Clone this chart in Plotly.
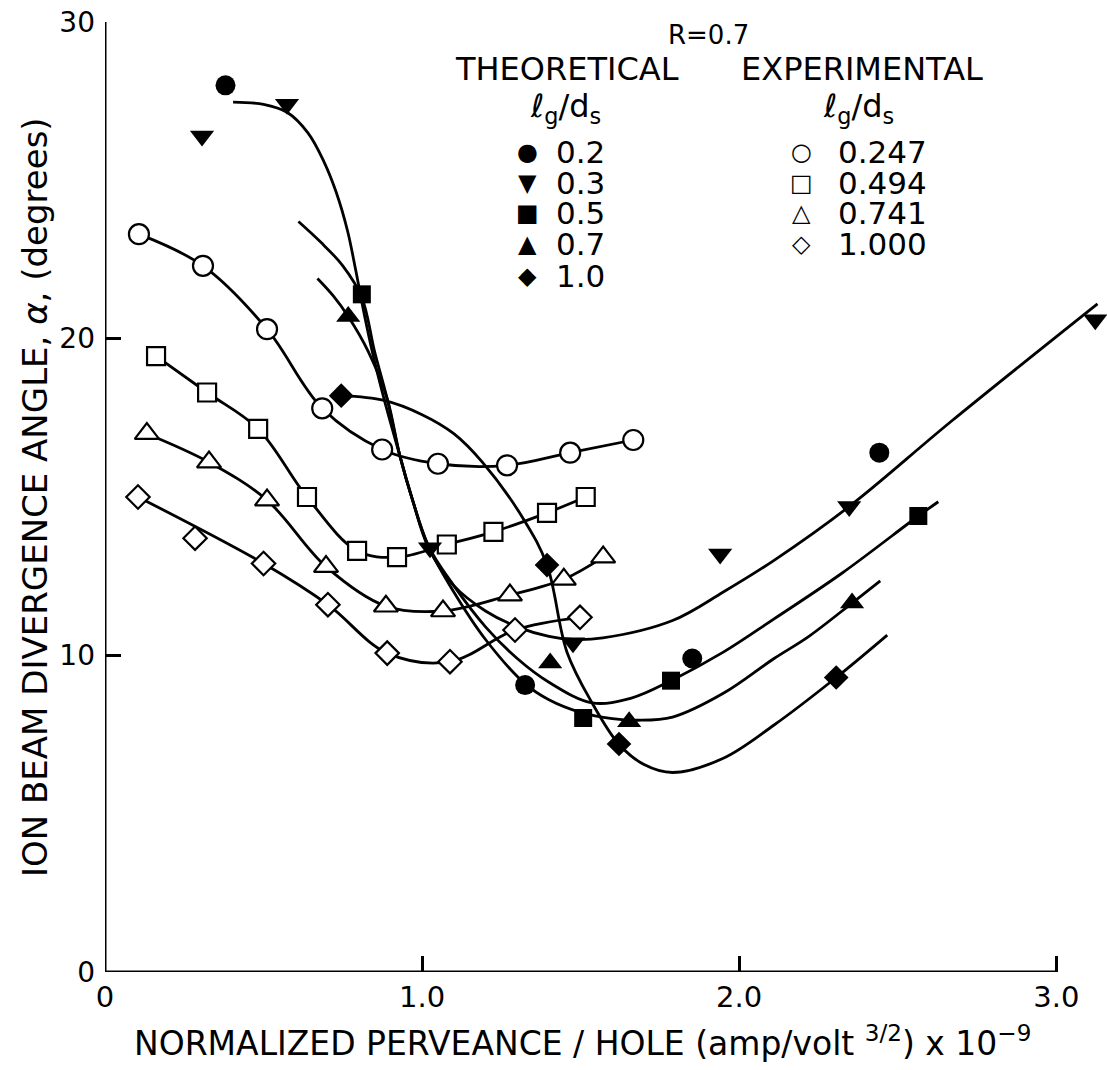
import plotly.graph_objects as go

# ---------------- figure geometry ----------------
W, H = 1107, 1070
ML, MR, MT, MB = 105, 0, 22, 98
X_MAX = 3.16
FONT = "DejaVu Sans"

# ---------------- experimental data (open symbols), lg/ds ----------------
exp_0247_x = [0.107, 0.309, 0.511, 0.685, 0.874, 1.050, 1.268, 1.467, 1.666]
exp_0247_y = [23.3, 22.3, 20.3, 17.8, 16.5, 16.05, 16.0, 16.4, 16.8]

exp_0494_x = [0.161, 0.322, 0.483, 0.637, 0.795, 0.921, 1.078, 1.225, 1.394, 1.516]
exp_0494_y = [19.45, 18.3, 17.15, 15.0, 13.3, 13.1, 13.5, 13.9, 14.5, 15.0]

exp_0741_x = [0.132, 0.328, 0.511, 0.697, 0.886, 1.066, 1.277, 1.447, 1.571]
exp_0741_y = [17.0, 16.1, 14.9, 12.8, 11.55, 11.4, 11.9, 12.4, 13.1]

exp_1000_x = [0.104, 0.284, 0.500, 0.703, 0.890, 1.088, 1.293, 1.498]
exp_1000_y = [15.0, 13.7, 12.9, 11.6, 10.07, 9.8, 10.8, 11.2]
# the second point lies off the faired curve
exp_1000_on_curve = [True, False, True, True, True, True, True, True]

# ---------------- theoretical points (filled symbols), lg/ds ----------------
th_02_x = [0.380, 1.325, 1.852, 2.442]
th_02_y = [28.0, 9.06, 9.9, 16.4]

th_03_x = [0.306, 0.574, 1.025, 1.476, 1.940, 2.347, 3.123]
th_03_y = [26.4, 27.4, 13.4, 10.4, 13.2, 14.7, 20.6]

th_05_x = [0.810, 1.508, 1.785, 2.565]
th_05_y = [21.4, 8.02, 9.2, 14.4]

th_07_x = [0.767, 1.404, 1.653, 2.356]
th_07_y = [20.7, 9.76, 7.9, 11.65]

th_10_x = [0.745, 1.394, 1.621, 2.306]
th_10_y = [18.2, 12.85, 7.2, 9.3]

# ---------------- faired theoretical curves ----------------
fit_03_x = [0.404, 0.500, 0.574, 0.640, 0.690, 0.730, 0.765, 0.790, 0.815, 0.845,
            0.880, 0.930, 0.970, 1.020, 1.100, 1.200, 1.300, 1.400, 1.476, 1.570,
            1.790, 1.950, 2.110, 2.347, 2.670, 3.130]
fit_03_y = [27.47, 27.4, 27.15, 26.5, 25.6, 24.6, 23.4, 22.2, 20.9, 19.5,
            18.1, 16.3, 14.9, 13.4, 12.2, 11.4, 10.9, 10.6, 10.5, 10.55,
            11.1, 12.0, 13.0, 14.7, 17.4, 21.1]

fit_05_x = [0.610, 0.680, 0.750, 0.810, 0.850, 0.890, 0.930, 0.970, 1.020, 1.100,
            1.200, 1.300, 1.400, 1.536, 1.660, 1.785, 1.950, 2.110, 2.325, 2.565,
            2.628]
fit_05_y = [23.7, 23.05, 22.3, 21.3, 19.6, 18.1, 16.3, 14.9, 13.45, 12.2,
            10.9, 9.9, 9.15, 8.5, 8.65, 9.2, 10.1, 11.15, 12.6, 14.4,
            14.85]

fit_07_x = [0.670, 0.720, 0.767, 0.830, 0.890, 0.930, 0.970, 1.020, 1.100, 1.200,
            1.325, 1.400, 1.500, 1.600, 1.680, 1.790, 1.950, 2.110, 2.220, 2.356,
            2.445]
fit_07_y = [21.9, 21.35, 20.7, 19.6, 18.1, 16.3, 14.9, 13.45, 12.0, 10.5,
            9.1, 8.6, 8.2, 8.0, 7.95, 8.05, 8.8, 9.9, 10.6, 11.65,
            12.35]

fit_10_x = [0.745, 0.880, 1.000, 1.100, 1.190, 1.320, 1.394, 1.457, 1.536, 1.620,
            1.700, 1.790, 1.950, 2.110, 2.306, 2.467]
fit_10_y = [18.2, 18.05, 17.6, 17.0, 16.1, 14.3, 12.85, 10.1, 8.5, 7.2,
            6.55, 6.3, 6.75, 7.8, 9.3, 10.64]

# ---------------- axis ticks ----------------
x_tick_vals = [0, 1, 2, 3]
x_tick_text = ["0", "1.0", "2.0", "3.0"]
y_tick_vals = [0, 10, 20, 30]
y_tick_text = ["0", "10", "20", "30"]

# ---------------- key content ----------------
theory_labels = ["0.2", "0.3", "0.5", "0.7", "1.0"]
theory_glyphs = ["\u25cf", "\u25bc", "\u25a0", "\u25b2", "\u25c6"]
exper_labels = ["0.247", "0.494", "0.741", "1.000"]
exper_glyphs = ["\u25cb", "\u25a1", "\u25b3", "\u25c7"]

LINE_W = 2.8
BLACK = "black"

fig = go.Figure()

def curve(xs, ys):
    fig.add_trace(go.Scatter(
        x=xs, y=ys, mode="lines",
        line=dict(color=BLACK, width=LINE_W, shape="spline", smoothing=1.0),
        hoverinfo="skip"))

# faired theoretical curves
for fx, fy in [(fit_03_x, fit_03_y), (fit_05_x, fit_05_y),
               (fit_07_x, fit_07_y), (fit_10_x, fit_10_y)]:
    curve(fx, fy)

# experimental curves drawn through the measured points
curve(exp_0247_x, exp_0247_y)
curve(exp_0494_x, exp_0494_y)
curve(exp_0741_x, exp_0741_y)
curve([x for x, k in zip(exp_1000_x, exp_1000_on_curve) if k],
      [y for y, k in zip(exp_1000_y, exp_1000_on_curve) if k])

def points(xs, ys, symbol, size, filled):
    if filled:
        marker = dict(symbol=symbol, size=size, color=BLACK, line=dict(width=0))
    else:
        marker = dict(symbol=symbol, size=size, color="white",
                      line=dict(color=BLACK, width=2.2))
    fig.add_trace(go.Scatter(x=xs, y=ys, mode="markers", marker=marker,
                             cliponaxis=False, hoverinfo="skip"))

# experimental symbols (open)
points(exp_0247_x, exp_0247_y, "circle", 20, False)
points(exp_0494_x, exp_0494_y, "square", 18, False)
points(exp_0741_x, exp_0741_y, "triangle-up", 21, False)
points(exp_1000_x, exp_1000_y, "diamond", 18, False)

# theoretical symbols (filled)
points(th_02_x, th_02_y, "circle", 20, True)
points(th_03_x, th_03_y, "triangle-down", 21, True)
points(th_05_x, th_05_y, "square", 18, True)
points(th_07_x, th_07_y, "triangle-up", 21, True)
points(th_10_x, th_10_y, "diamond", 19, True)

# axis lines: x axis stops at 3.0, y axis spans 0..30
fig.add_shape(type="line", xref="x", yref="y", x0=0, x1=3.0, y0=0, y1=0,
              line=dict(color=BLACK, width=3))
fig.add_shape(type="line", xref="x", yref="y", x0=0, x1=0, y0=0, y1=30,
              line=dict(color=BLACK, width=3))

# helpers to place text by pixel position
PW = W - ML - MR
PH = H - MT - MB
def px_x(p):
    return (p - ML) / PW
def px_y(p):
    return (H - MB - p) / PH

def label(text, xp, yp, size, xanchor="center", yanchor="middle", angle=0, box_h=None):
    kw = {}
    if box_h is not None:
        kw["height"] = box_h
    fig.add_annotation(text=text, x=px_x(xp), y=px_y(yp), xref="paper", yref="paper",
                       showarrow=False, xanchor=xanchor, yanchor=yanchor,
                       textangle=angle, font=dict(family=FONT, size=size, color=BLACK),
                       **kw)

# key
label("R=0.7", 708, 35, 26)
label("THEORETICAL", 567, 69, 32)
label("EXPERIMENTAL", 862, 69, 32)
label("\u2113<sub>g</sub>/d<sub>s</sub>", 565, 108, 32)
label("\u2113<sub>g</sub>/d<sub>s</sub>", 858, 108, 32)
theory_rows = [152, 183, 213, 244, 276]
for g, t, yp in zip(theory_glyphs, theory_labels, theory_rows):
    label(g, 527, yp, 24, box_h=28)
    label(t, 554, yp, 31, xanchor="left", box_h=28)
for g, t, yp in zip(exper_glyphs, exper_labels, theory_rows[:4]):
    label(g, 801, yp, 24, box_h=28)
    label(t, 836, yp, 31, xanchor="left", box_h=28)

# axis titles
label("NORMALIZED PERVEANCE / HOLE (amp/volt <sup>3/2</sup>) x 10<sup>\u22129</sup>",
      582, 1041, 33)
label("ION BEAM DIVERGENCE ANGLE, <i>\u03b1</i>, (degrees)", 35, 497, 34, angle=-90)

fig.update_layout(
    width=W, height=H,
    margin=dict(l=ML, r=MR, t=MT, b=MB, pad=0),
    paper_bgcolor="white", plot_bgcolor="white",
    showlegend=False,
    font=dict(family=FONT, color=BLACK),
    xaxis=dict(range=[0, X_MAX], showgrid=False, zeroline=False, showline=False,
               tickmode="array", tickvals=x_tick_vals, ticktext=x_tick_text,
               ticks="inside", ticklen=16, tickwidth=2.5, tickcolor=BLACK,
               ticklabelstandoff=5,
               tickfont=dict(family=FONT, size=29, color=BLACK)),
    yaxis=dict(range=[0, 30], showgrid=False, zeroline=False, showline=False,
               tickmode="array", tickvals=y_tick_vals, ticktext=y_tick_text,
               ticks="inside", ticklen=16, tickwidth=2.5, tickcolor=BLACK,
               ticklabelstandoff=9,
               tickfont=dict(family=FONT, size=28, color=BLACK)),
)

fig.write_html("out.html")
